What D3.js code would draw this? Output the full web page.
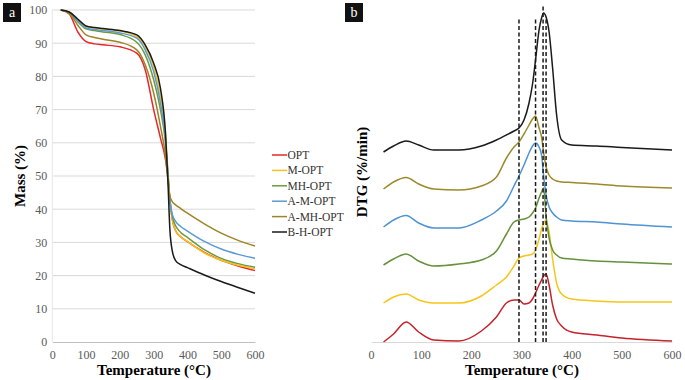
<!DOCTYPE html>
<html>
<head>
<meta charset="utf-8">
<script src="https://cdn.jsdelivr.net/npm/d3@7"></script>
<style>
  body { margin: 0; background: #fff; }
  text { font-family: "Liberation Serif", "Times New Roman", serif; }
</style>
</head>
<body>
<svg class="chart" width="685" height="380"></svg>
<script>
// ---- data ----
const seriesNames = ['OPT', 'M-OPT', 'MH-OPT', 'A-M-OPT', 'A-MH-OPT', 'B-H-OPT'];
const colorsA = ['#e8262b', '#f7c21c', '#6f9a3c', '#5b9bd5', '#9c8526', '#1a1a1a'];
const colorsB = ['#c4232b', '#f7c51a', '#65913b', '#4f93d2', '#9c8a2a', '#1a1a1a'];

// (a) TGA mass loss
const tempA = [25, 50, 75, 100, 125, 150, 200, 250, 275, 300, 320, 335, 342, 348, 355, 365, 380, 400, 450, 500, 550, 600];
const massOPT   = [100, 98.8, 93.5, 90.5, 89.8, 89.5, 88.9, 87.0, 82.0, 70.0, 61.5, 55.0, 50.0, 43.0, 37.0, 33.5, 31.7, 30.2, 27.0, 24.6, 22.9, 21.5];
const massM     = [100, 99.3, 97.0, 95.0, 94.6, 94.3, 93.7, 92.0, 89.0, 83.0, 74.0, 63.0, 52.0, 43.0, 37.0, 33.5, 31.7, 30.3, 26.8, 24.6, 23.1, 22.1];
const massMH    = [100, 99.2, 96.5, 94.3, 93.8, 93.4, 92.6, 90.3, 86.5, 79.0, 70.0, 60.0, 51.0, 43.0, 38.0, 35.0, 33.0, 31.5, 27.8, 25.2, 23.6, 22.5];
const massAM    = [100, 99.3, 96.8, 94.6, 94.1, 93.8, 93.1, 91.5, 88.0, 81.5, 72.0, 61.0, 51.0, 42.5, 38.5, 36.3, 34.8, 33.4, 30.3, 28.0, 26.4, 25.2];
const massAMH   = [100, 99.0, 95.5, 92.5, 91.7, 91.2, 90.3, 88.0, 83.5, 75.0, 65.0, 56.0, 49.0, 44.0, 42.3, 41.3, 40.2, 38.8, 35.6, 32.8, 30.6, 28.9];
const massBH    = [100, 99.4, 97.3, 95.2, 94.7, 94.4, 93.8, 92.5, 89.5, 84.0, 76.5, 63.0, 49.0, 34.0, 27.5, 24.5, 23.3, 22.4, 20.2, 18.2, 16.4, 14.7];
const massSeries = [massOPT, massM, massMH, massAM, massAMH, massBH];
const massTicks = [0, 10, 20, 30, 40, 50, 60, 70, 80, 90, 100];
const tempTicks = [0, 100, 200, 300, 400, 500, 600];

// (b) DTG curves (offset, arbitrary units)
const tempB = [25, 45, 70, 95, 125, 175, 220, 250, 270, 285, 295, 305, 315, 322, 328, 335, 340, 344, 349, 355, 362, 370, 380, 400, 450, 500, 600];
const dtgOPT = [0.0, 0.8, 2.0, 1.0, 0.2, 0.1, 1.1, 2.5, 3.9, 4.2, 4.2, 3.8, 3.9, 4.3, 4.9, 5.7, 6.2, 6.6, 6.8, 5.7, 3.7, 2.3, 1.6, 1.0, 0.7, 0.4, 0.1];
const dtgM   = [3.9, 4.5, 4.8, 4.2, 3.9, 3.9, 4.6, 5.7, 6.5, 7.6, 8.4, 8.6, 8.7, 8.8, 9.2, 10.3, 11.3, 11.8, 12.2, 11.0, 8.3, 5.9, 4.8, 4.3, 4.1, 4.0, 4.0];
const dtgMH  = [7.7, 8.3, 8.8, 8.1, 7.6, 7.8, 8.2, 9.1, 10.8, 12.0, 12.2, 12.3, 12.5, 12.9, 13.4, 14.4, 15.0, 15.4, 12.6, 10.4, 9.2, 8.7, 8.4, 8.3, 8.1, 8.0, 7.8];
const dtgAM  = [11.5, 12.2, 12.65, 11.9, 11.4, 11.4, 12.2, 13.1, 14.1, 15.6, 16.6, 17.7, 18.9, 19.6, 19.9, 19.5, 18.7, 16.7, 14.7, 13.5, 12.9, 12.5, 12.2, 12.1, 12.0, 11.8, 11.5];
const dtgAMH = [15.3, 16.0, 16.45, 15.8, 15.3, 15.2, 15.6, 16.5, 18.4, 19.5, 20.0, 20.8, 21.7, 22.3, 22.6, 21.4, 20.5, 19.0, 17.5, 16.7, 16.3, 16.1, 16.0, 15.95, 15.8, 15.6, 15.4];
const dtgBH  = [19.0, 19.6, 20.1, 19.7, 19.2, 19.2, 19.6, 20.2, 20.7, 21.1, 21.4, 22.2, 23.9, 25.8, 28.2, 31.2, 32.4, 32.9, 32.5, 31.0, 27.4, 22.7, 20.2, 19.7, 19.6, 19.45, 19.2];
const dtgSeries = [dtgOPT, dtgM, dtgMH, dtgAM, dtgAMH, dtgBH];
const peakTemps = [295, 328, 343, 349];
const peakTops = [32.4, 32.4, 33.7, 32.4];

// ---- drawing ----
const svg = d3.select('.chart');
const gridColor = '#d9d9d9';
const tickColor = '#595959';

// panel a
const xA = d3.scaleLinear().domain([0, 600]).range([52.3, 255]);
const yA = d3.scaleLinear().domain([0, 100]).range([342, 10]);

const panelA = svg.append('g').attr('id', 'panelA');

panelA.append('g')
    .selectAll('line')
    .data(massTicks.filter(d => d > 0))
    .join('line')
    .attr('x1', xA(0)).attr('x2', xA(600))
    .attr('y1', d => yA(d)).attr('y2', d => yA(d))
    .attr('stroke', gridColor).attr('stroke-width', 1);

panelA.append('line')
    .attr('x1', xA(0)).attr('x2', xA(0))
    .attr('y1', yA(0)).attr('y2', yA(100))
    .attr('stroke', '#e6e6e6');

const axA = panelA.append('g')
    .attr('transform', `translate(0, ${yA(0)})`)
    .call(d3.axisBottom(xA).tickValues(tempTicks).tickSize(0).tickPadding(8));
axA.select('.domain').attr('stroke', '#bfbfbf');

const ayA = panelA.append('g')
    .attr('transform', `translate(${xA(0)}, 0)`)
    .call(d3.axisLeft(yA).tickValues(massTicks).tickSize(0).tickPadding(5));
ayA.select('.domain').remove();

panelA.selectAll('.tick text')
    .attr('fill', tickColor)
    .style('font-size', '12px')
    .style('font-family', '"Liberation Serif", serif');

const lineA = (vals) => d3.line()
    .x((d, i) => xA(tempA[i]))
    .y(d => yA(d))
    .curve(d3.curveMonotoneX)(vals);

panelA.append('g')
    .selectAll('path')
    .data(massSeries)
    .join('path')
    .attr('d', d => lineA(d))
    .attr('fill', 'none')
    .attr('stroke', (d, i) => colorsA[i])
    .attr('stroke-width', 1.5);

// legend
const legend = panelA.append('g')
    .attr('transform', 'translate(272, 155)');
const item = legend.selectAll('g')
    .data(seriesNames)
    .join('g')
    .attr('transform', (d, i) => `translate(0, ${i * 15.4})`);
item.append('line')
    .attr('x1', 0).attr('x2', 15)
    .attr('stroke', (d, i) => colorsA[i])
    .attr('stroke-width', 1.5);
item.append('text')
    .attr('x', 15.5)
    .attr('dy', '0.35em')
    .attr('fill', '#333')
    .style('font-size', '11.5px')
    .text(d => d);

// panel b
const xB = d3.scaleLinear().domain([0, 600]).range([371, 672]);
const yB = d3.scaleLinear().domain([0, 33.2]).range([342, 10]);

const panelB = svg.append('g').attr('id', 'panelB');

const axB = panelB.append('g')
    .attr('transform', `translate(0, ${yB(0)})`)
    .call(d3.axisBottom(xB).tickValues(tempTicks).tickSize(0).tickPadding(8));
axB.select('.domain').attr('stroke', gridColor);
axB.selectAll('.tick text')
    .attr('fill', tickColor)
    .style('font-size', '12px')
    .style('font-family', '"Liberation Serif", serif');

const lineB = (vals) => d3.line()
    .x((d, i) => xB(tempB[i]))
    .y(d => yB(d))
    .curve(d3.curveMonotoneX)(vals);

panelB.append('g')
    .selectAll('path')
    .data(dtgSeries)
    .join('path')
    .attr('d', d => lineB(d))
    .attr('fill', 'none')
    .attr('stroke', (d, i) => colorsB[i])
    .attr('stroke-width', 1.5);

panelB.append('g')
    .selectAll('line')
    .data(peakTemps)
    .join('line')
    .attr('x1', d => xB(d)).attr('x2', d => xB(d))
    .attr('y1', yB(0)).attr('y2', (d, i) => yB(peakTops[i]))
    .attr('stroke', '#1a1a1a')
    .attr('stroke-width', 1.5)
    .attr('stroke-dasharray', '4,2.5');

// titles
svg.append('text')
    .attr('x', 154).attr('y', 375)
    .attr('text-anchor', 'middle')
    .style('font-size', '15px').style('font-weight', 'bold')
    .text('Temperature (°C)');

svg.append('text')
    .attr('x', 522).attr('y', 375)
    .attr('text-anchor', 'middle')
    .style('font-size', '15px').style('font-weight', 'bold')
    .text('Temperature (°C)');

svg.append('text')
    .attr('transform', 'translate(25, 176) rotate(-90)')
    .attr('text-anchor', 'middle')
    .style('font-size', '15px').style('font-weight', 'bold')
    .text('Mass (%)');

svg.append('text')
    .attr('transform', 'translate(367, 172) rotate(-90)')
    .attr('text-anchor', 'middle')
    .style('font-size', '15px').style('font-weight', 'bold')
    .text('DTG (%/min)');

// panel letters
const letters = [{ t: 'a', x: 3 }, { t: 'b', x: 345 }];
const lg = svg.append('g').selectAll('g').data(letters).join('g');
lg.append('rect')
    .attr('x', d => d.x).attr('y', 3)
    .attr('width', 18).attr('height', 19)
    .attr('fill', '#111');
lg.append('text')
    .attr('x', d => d.x + 9).attr('y', 17)
    .attr('text-anchor', 'middle')
    .attr('fill', '#fff')
    .style('font-size', '14px')
    .text(d => d.t);
</script>
</body>
</html>
